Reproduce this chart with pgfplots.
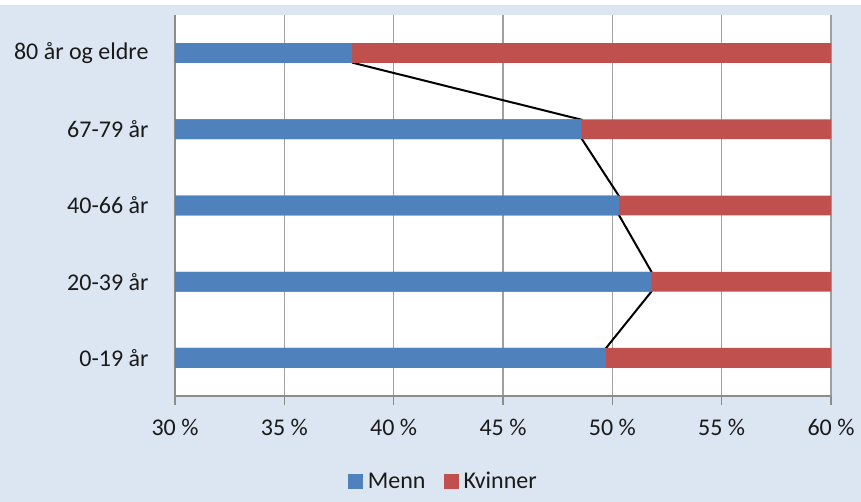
\documentclass[border=0pt]{standalone}
\usepackage{fontspec}
\setmainfont{Carlito}
\usepackage{pgfplots}
\usepackage{pgfplotstable}
\pgfplotsset{compat=1.18}
\definecolor{bg}{HTML}{DCE6F2}
\definecolor{menn}{HTML}{4F81BD}
\definecolor{kvinner}{HTML}{C0504D}
\definecolor{gridc}{HTML}{A0A0A0}
\definecolor{axc}{HTML}{8C8C8C}
\definecolor{txt}{HTML}{1A1A1A}
\pgfplotstableread{
pos Menn Kvinner
0 49.7 50.3
1 51.8 48.2
2 50.3 49.7
3 48.6 51.4
4 38.1 61.9
}\data
\begin{document}
\begin{tikzpicture}[x=1bp,y=1bp]
\fill[white] (0,0) rectangle (861,502);
\fill[bg] (0,0) rectangle (861,497);
\begin{axis}[
  at={(175bp,106bp)}, anchor=south west,
  scale only axis, width=656bp, height=381bp,
  xmin=30, xmax=60, ymin=-0.5, ymax=4.5,
  axis background/.style={fill=white},
  axis x line*=bottom, axis y line*=left,
  axis line style={draw=axc, line width=1.8bp, -},
  xtick={30,35,40,45,50,55,60},
  xticklabels={30 \%,35 \%,40 \%,45 \%,50 \%,55 \%,60 \%},
  ytick={0,1,2,3,4},
  yticklabels={0-19 år,20-39 år,40-66 år,67-79 år,80 år og eldre},
  tick align=outside,
  major tick length=9bp,
  xtick style={draw=axc, line width=1.6bp},
  ytick style={draw=none},
  xmajorgrids,
  grid style={draw=gridc, line width=1.6bp},
  tick label style={font=\fontsize{24bp}{28bp}\selectfont, text=txt},
  xticklabel style={yshift=-11bp},
  yticklabel style={xshift=-14bp},
  legend style={at={(0.409,-0.224)}, anchor=center, draw=none, fill=none,
    font=\fontsize{24bp}{28bp}\selectfont, text=txt,
    /tikz/every odd column/.append style={column sep=3bp},
    /tikz/every even column/.append style={column sep=16bp}},
  legend columns=2,
  reverse legend,
  legend image code/.code={\fill[#1] (0bp,-7.5bp) rectangle (15bp,7.5bp);},
]
\addplot[black, line width=2bp, no marks, forget plot] coordinates {
 (38.1,3.875) (48.6,3.125) (48.6,2.875) (50.3,2.125) (50.3,1.875)
 (51.8,1.125) (51.8,0.875) (49.7,0.125)};
\addplot[xbar, bar width=0.26, bar shift=0pt, fill=kvinner, draw=none]
  table[x expr=\thisrow{Menn}+\thisrow{Kvinner}, y=pos] {\data};
\addlegendentry{Kvinner}
\addplot[xbar, bar width=0.26, bar shift=0pt, fill=menn, draw=none]
  table[x=Menn, y=pos] {\data};
\addlegendentry{Menn}
\end{axis}
\end{tikzpicture}
\end{document}
